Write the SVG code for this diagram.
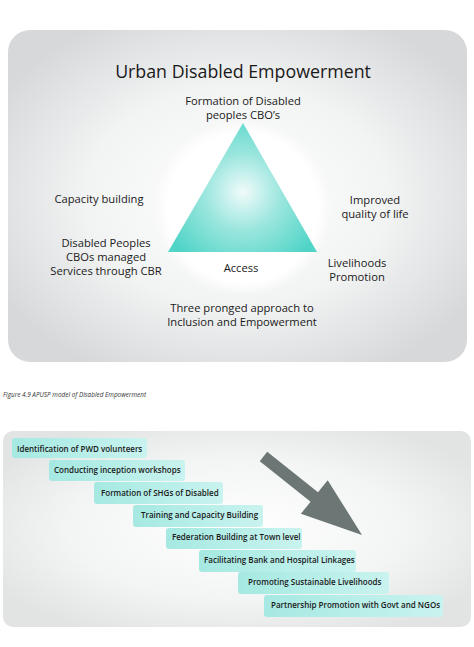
<svg xmlns="http://www.w3.org/2000/svg" width="474" height="647" viewBox="0 0 474 647">
<style>
text{font-family:"Open Sans","Noto Sans","DejaVu Sans",sans-serif;fill:#1a1a1a}
.lbl{font-size:11.2px;text-anchor:middle}
.step{font-size:8px;font-weight:600}
.box{fill:url(#boxg)}
</style>
<defs>
<radialGradient id="panel1" cx="0.5" cy="0.5" r="0.6">
<stop offset="0" stop-color="#ffffff"/>
<stop offset="0.55" stop-color="#f2f3f3"/>
<stop offset="1" stop-color="#d6d8da"/>
</radialGradient>
<radialGradient id="panel2" cx="0.5" cy="0.5" r="0.6">
<stop offset="0" stop-color="#ffffff"/>
<stop offset="0.6" stop-color="#f3f4f4"/>
<stop offset="1" stop-color="#e2e4e4"/>
</radialGradient>
<radialGradient id="glow" cx="0.5" cy="0.5" r="0.5">
<stop offset="0" stop-color="#ffffff"/>
<stop offset="0.85" stop-color="#ffffff"/>
<stop offset="1" stop-color="#ffffff" stop-opacity="0"/>
</radialGradient>
<radialGradient id="tri" gradientUnits="userSpaceOnUse" cx="243" cy="192" r="85">
<stop offset="0" stop-color="#f0fbfa"/>
<stop offset="0.45" stop-color="#9be6de"/>
<stop offset="1" stop-color="#50d4c7"/>
</radialGradient>
<linearGradient id="boxg" x1="0" y1="0" x2="1" y2="0">
<stop offset="0" stop-color="#a6e9e2"/>
<stop offset="1" stop-color="#c9f3ef"/>
</linearGradient>
</defs>
<g id="panel-top">
<rect x="8" y="30" width="459" height="332" rx="22" fill="url(#panel1)"/>
<circle cx="243" cy="208" r="88" fill="url(#glow)"/>
</g>
<g id="title"><text x="243" y="78" style="font-size:17.8px;text-anchor:middle">Urban Disabled Empowerment</text></g>
<g id="triangle"><polygon points="243,123 168,252 317,252" fill="url(#tri)"/></g>
<g id="label-top"><text class="lbl" x="243" y="105">Formation of Disabled</text><text class="lbl" x="243" y="119">peoples CBO’s</text></g>
<g id="label-capacity"><text class="lbl" x="99" y="203">Capacity building</text></g>
<g id="label-improved"><text class="lbl" x="375" y="204">Improved</text><text class="lbl" x="375" y="218">quality of life</text></g>
<g id="label-dpcbo"><text class="lbl" x="106" y="247">Disabled Peoples</text><text class="lbl" x="106" y="261">CBOs managed</text><text class="lbl" x="106" y="275">Services through CBR</text></g>
<g id="label-access"><text class="lbl" x="241" y="272">Access</text></g>
<g id="label-livelihoods"><text class="lbl" x="357" y="267">Livelihoods</text><text class="lbl" x="357" y="281">Promotion</text></g>
<g id="label-three"><text class="lbl" x="242" y="312">Three pronged approach to</text><text class="lbl" x="242" y="326">Inclusion and Empowerment</text></g>
<g id="caption"><text x="3" y="397" style="font-size:6.4px;font-style:italic;fill:#333">Figure 4.9 APUSP model of Disabled Empowerment</text></g>
<g id="panel-bottom"><rect x="3" y="431" width="468" height="196" rx="10" fill="url(#panel2)"/></g>
<g id="connectors">
<polygon points="267.2,451.8 318,492.3 327.7,480.2 362,535 300.9,513.8 310.6,501.7 259.8,461.2" fill="#6c7675"/>
</g>
<g id="step1"><rect class="box" x="12" y="438" width="135" height="20" rx="3"/><text class="step" x="17" y="452">Identification of PWD volunteers</text></g>
<g id="step2"><rect class="box" x="49" y="460" width="136" height="21" rx="3"/><text class="step" x="54" y="473">Conducting inception workshops</text></g>
<g id="step3"><rect class="box" x="94" y="482" width="129" height="22" rx="3"/><text class="step" x="101" y="496">Formation of SHGs of Disabled</text></g>
<g id="step4"><rect class="box" x="133" y="505" width="130" height="22" rx="3"/><text class="step" x="141" y="518">Training and Capacity Building</text></g>
<g id="step5"><rect class="box" x="166" y="528" width="136" height="21" rx="3"/><text class="step" x="172" y="540">Federation Building at Town level</text></g>
<g id="step6"><rect class="box" x="199" y="550" width="157" height="22" rx="3"/><text class="step" x="204" y="563">Facilitating Bank and Hospital Linkages</text></g>
<g id="step7"><rect class="box" x="238" y="572" width="151" height="22" rx="3"/><text class="step" x="248" y="585">Promoting Sustainable Livelihoods</text></g>
<g id="step8"><rect class="box" x="264" y="595" width="179" height="22" rx="3"/><text class="step" x="271" y="608">Partnership Promotion with Govt and NGOs</text></g>
</svg>
